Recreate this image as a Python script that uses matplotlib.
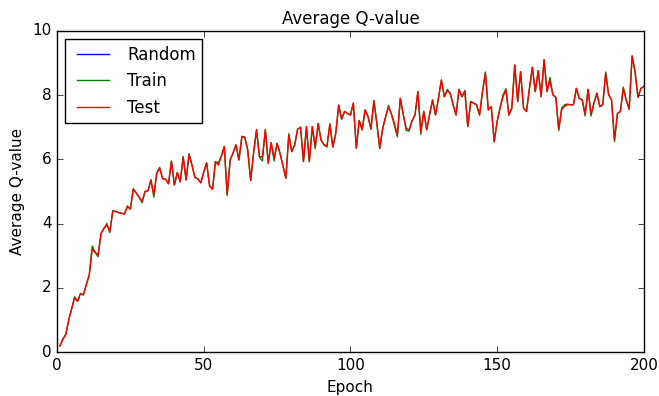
import numpy as np
from matplotlib import pyplot as plt

plt.style.use('classic')

epochs = np.arange(1, 201)

test_q = [0.19, 0.40, 0.55, 1.00, 1.35, 1.69, 1.58, 1.82, 1.78, 2.10,
          2.40, 3.20, 3.10, 3.03, 3.69, 3.85, 3.96, 3.75, 4.38, 4.38,
          4.34, 4.32, 4.30, 4.53, 4.45, 5.08, 4.95, 4.82, 4.69, 5.00,
          5.02, 5.36, 4.90, 5.57, 5.72, 5.40, 5.38, 5.24, 5.93, 5.20,
          5.59, 5.30, 6.08, 5.36, 6.14, 5.82, 5.44, 5.39, 5.27, 5.60,
          5.88, 5.17, 5.07, 5.93, 5.82, 6.10, 6.40, 4.89, 5.98, 6.20,
          6.45, 5.98, 6.69, 6.69, 6.29, 5.34, 6.20, 6.92, 6.08, 6.08,
          6.92, 5.88, 6.52, 6.03, 6.50, 6.19, 5.80, 5.41, 6.76, 6.24,
          6.45, 6.94, 7.00, 5.93, 7.02, 5.93, 7.02, 6.40, 7.12, 6.60,
          6.45, 6.42, 7.10, 6.38, 6.81, 7.69, 7.25, 7.49, 7.43, 7.38,
          7.75, 6.35, 7.21, 6.92, 7.54, 7.33, 6.94, 7.83, 7.12, 6.34,
          6.97, 7.33, 7.64, 7.40, 7.12, 6.78, 7.90, 7.40, 6.97, 6.92,
          7.20, 7.38, 8.11, 6.86, 7.49, 6.92, 7.40, 7.85, 7.38, 7.90,
          8.47, 7.95, 8.14, 8.06, 7.70, 7.38, 8.18, 7.95, 8.11, 7.02,
          7.80, 7.75, 7.70, 7.38, 8.10, 8.68, 7.54, 7.64, 6.55, 7.18,
          7.60, 7.95, 8.16, 7.38, 7.59, 8.94, 7.80, 8.73, 7.59, 7.49,
          8.20, 8.87, 8.11, 8.76, 7.95, 9.10, 8.11, 8.45, 8.01, 7.93,
          6.94, 7.54, 7.66, 7.70, 7.70, 7.70, 8.21, 7.90, 7.85, 7.41,
          8.18, 7.41, 7.75, 8.06, 7.64, 7.70, 8.68, 8.01, 7.85, 6.61,
          7.43, 7.49, 8.21, 7.85, 7.56, 9.22, 8.73, 7.93, 8.21, 8.27]

train_q = [0.19, 0.40, 0.55, 1.00, 1.35, 1.72, 1.58, 1.82, 1.78, 2.10,
           2.40, 3.30, 3.10, 2.97, 3.69, 3.85, 4.00, 3.72, 4.40, 4.38,
           4.34, 4.32, 4.30, 4.55, 4.45, 5.08, 4.95, 4.82, 4.65, 5.00,
           5.02, 5.36, 4.82, 5.57, 5.75, 5.40, 5.38, 5.24, 5.95, 5.20,
           5.59, 5.30, 6.08, 5.36, 6.18, 5.82, 5.44, 5.39, 5.27, 5.60,
           5.90, 5.17, 5.07, 5.93, 5.88, 6.10, 6.40, 4.89, 5.98, 6.20,
           6.45, 5.98, 6.72, 6.69, 6.29, 5.34, 6.20, 6.92, 6.08, 5.95,
           6.92, 5.88, 6.52, 5.95, 6.50, 6.19, 5.80, 5.41, 6.80, 6.24,
           6.45, 6.94, 7.00, 5.93, 7.02, 5.93, 7.02, 6.33, 7.12, 6.60,
           6.45, 6.38, 7.10, 6.38, 6.81, 7.69, 7.25, 7.49, 7.43, 7.38,
           7.75, 6.35, 7.21, 6.92, 7.54, 7.33, 6.94, 7.83, 7.12, 6.34,
           6.97, 7.33, 7.68, 7.40, 7.05, 6.70, 7.90, 7.40, 6.90, 6.88,
           7.20, 7.38, 8.11, 6.78, 7.49, 6.92, 7.40, 7.85, 7.38, 7.90,
           8.47, 7.95, 8.18, 8.06, 7.70, 7.38, 8.18, 7.95, 8.15, 7.02,
           7.80, 7.75, 7.70, 7.38, 8.10, 8.72, 7.54, 7.64, 6.55, 7.18,
           7.60, 8.00, 8.20, 7.38, 7.59, 8.94, 7.80, 8.73, 7.59, 7.49,
           8.20, 8.87, 8.11, 8.76, 7.95, 9.10, 8.11, 8.55, 8.01, 7.93,
           6.90, 7.60, 7.70, 7.72, 7.70, 7.70, 8.21, 7.90, 7.85, 7.35,
           8.18, 7.35, 7.75, 8.06, 7.64, 7.70, 8.72, 8.01, 7.85, 6.55,
           7.43, 7.49, 8.25, 7.85, 7.56, 9.22, 8.73, 7.93, 8.21, 8.27]

# random agent curve does not show up in the figure
random_q = []

fig = plt.figure(figsize=(6.59, 3.96), dpi=100, facecolor='white')
ax = fig.add_axes([0.0865, 0.111, 0.8905, 0.811])

ax.plot(epochs[:len(random_q)], random_q, 'b', label='Random')
ax.plot(epochs, train_q, 'g', label='Train')
ax.plot(epochs, test_q, 'r', label='Test')

ax.set_xlim(0, 200)
ax.set_ylim(0, 10)
ax.set_xticks([0, 50, 100, 150, 200])
ax.set_yticks([0, 2, 4, 6, 8, 10])
ax.tick_params(labelsize=11)
ax.set_title('Average Q-value', fontsize=12)
ax.set_xlabel('Epoch', fontsize=11)
ax.set_ylabel('Average Q-value', fontsize=11)
ax.legend(loc='upper left', fontsize=12, handlelength=2.5, borderpad=0.4)

fig.savefig('out.png', dpi=100, facecolor='white')
